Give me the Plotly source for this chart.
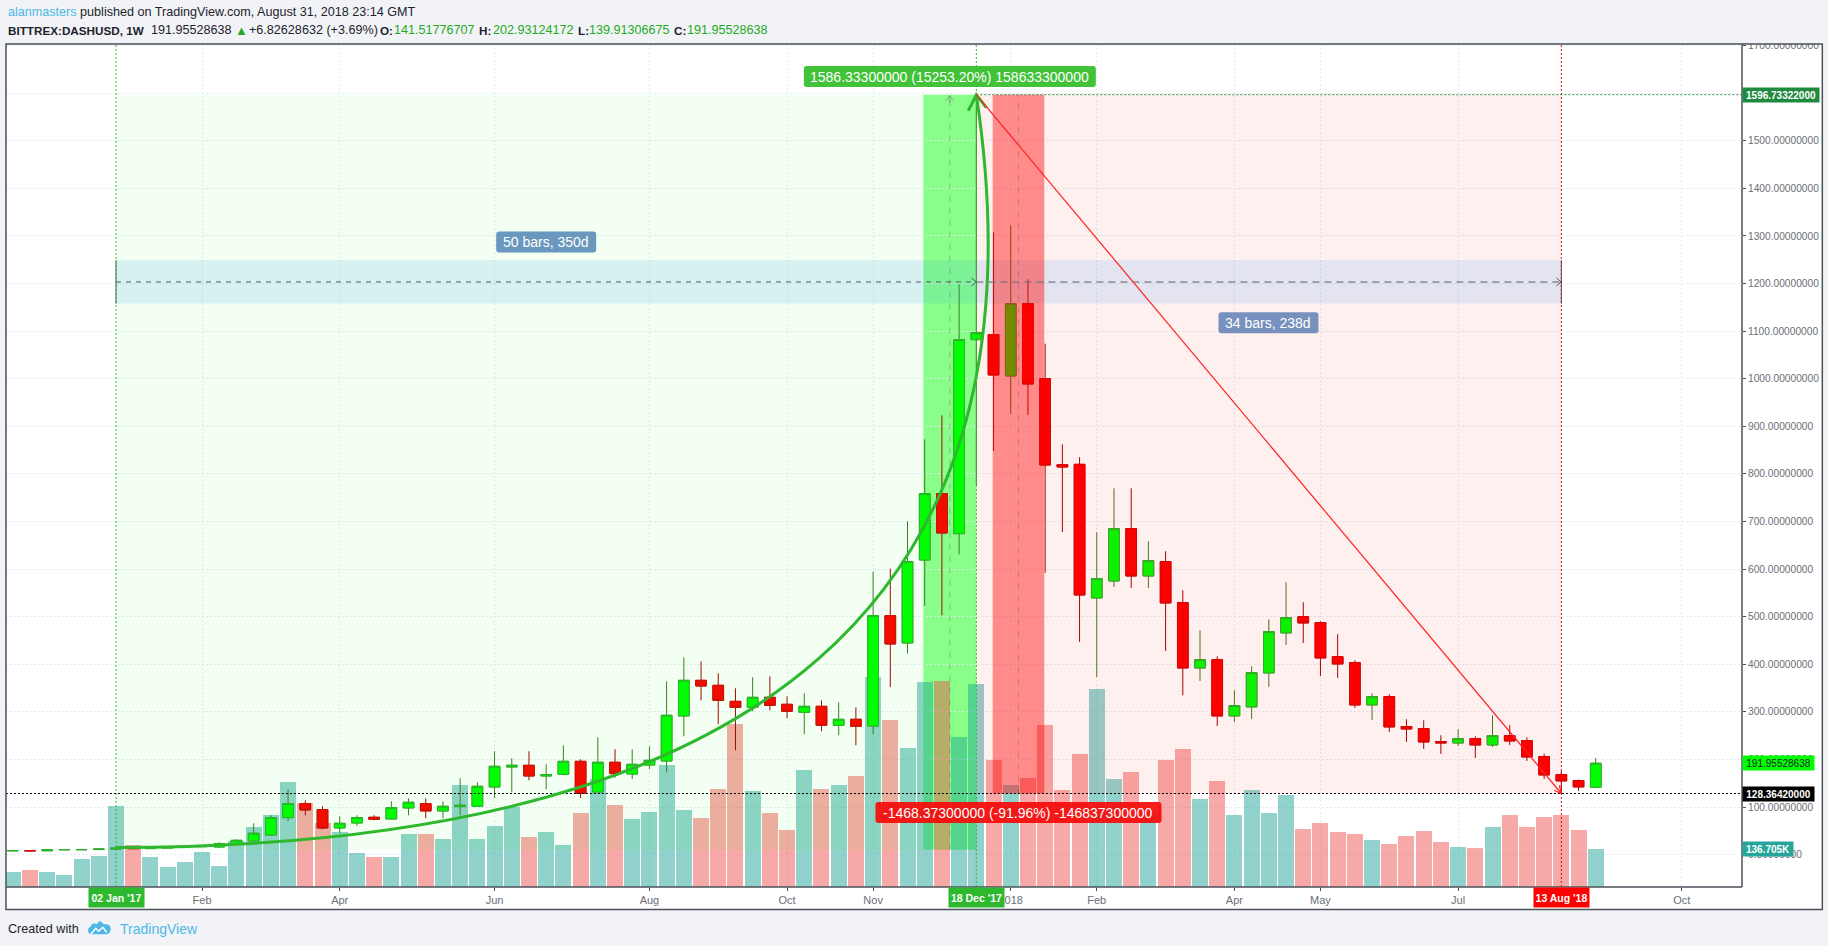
import plotly.graph_objects as go

# ---- data -----------------------------------------------------------------
first_week = -6
opens = [8.0,8.4,8.0,10.0,10.2,10.6,11.6,13.4,12.6,13.9,16.0,16.7,16.0,22.4,28.7,41.3,77.7,107.1,94.5,56.0,66.5,78.4,74.9,98.0,107.1,91.7,100.8,101.5,142.1,184.1,187.6,165.2,168.7,196.0,131.6,194.0,169.4,188.3,196.7,291.3,366.2,355.7,322.1,309.5,330.5,315.8,299.0,311.6,271.7,284.3,270.3,502.1,444.7,619.0,758.5,674.4,1082.0,1092.6,1005.7,1157.7,1000.1,819.4,820.1,539.3,575.0,685.0,585.5,615.7,529.5,392.2,409.7,291.4,310.3,381.7,465.8,500.1,487.5,416.0,403.4,314.5,332.0,269.0,264.7,237.4,234.6,243.7,230.4,250.0,239.5,205.9,168.1,155.5,141.52]
highs = [8.6,8.6,10.5,11.0,11.0,12.0,14.5,14.0,14.5,17.0,18.0,20.0,25.9,32.2,65.8,82.6,137.2,114.1,101.5,80.5,82.6,82.6,112.0,118.3,118.3,112.0,160.3,151.9,217.1,202.4,217.1,189.8,229.7,200.3,246.5,221.3,221.2,227.6,364.1,414.6,406.1,380.9,349.4,372.5,374.6,332.6,338.9,324.2,320.0,309.5,594.6,600.9,700.3,872.6,923.0,1198.3,1596.73,1307.6,1322.3,1208.8,1073.6,862.1,834.8,677.3,769.7,769.7,658.4,637.4,555.4,471.4,416.7,345.3,395.7,494.5,572.2,530.2,490.3,463.0,408.3,339.0,336.9,284.4,282.3,250.7,263.4,248.6,292.8,271.8,246.5,212.2,175.8,157.6,202.93]
lows = [7.8,7.9,8.0,9.8,9.8,10.4,11.0,12.0,12.4,13.5,15.0,15.8,15.5,21.7,27.3,39.2,70.0,82.6,53.2,45.5,60.2,72.1,74.9,82.6,76.3,76.3,82.6,100.1,119.0,130.9,156.1,137.2,166.6,119.0,131.6,161.7,158.9,179.9,172.9,248.6,324.2,273.8,219.2,301.1,303.2,286.4,252.8,259.1,250.7,229.6,252.8,352.2,422.3,522.4,502.8,631.0,776.0,848.1,925.9,923.8,592.0,678.0,446.8,373.2,562.4,560.3,560.3,428.0,334.8,364.9,270.3,278.8,285.1,352.3,440.6,444.8,375.4,371.2,308.2,283.0,257.7,236.7,222.0,211.5,228.3,203.1,226.2,230.4,196.8,159.0,128.36,133.8,139.91]
closes = [8.4,8.0,10.0,10.7,10.6,11.6,13.4,12.6,13.9,16.0,16.7,18.8,23.0,30.0,44.8,77.7,107.1,93.8,56.0,65.8,77.7,74.2,98.7,109.9,91.7,101.5,103.6,143.5,185.5,187.6,165.2,168.0,196.0,128.8,194.0,170.1,189.7,198.1,292.7,366.2,354.3,324.2,309.5,330.5,313.7,301.1,311.6,271.7,284.3,269.6,502.1,442.6,615.6,758.5,675.8,1082.0,1097.0,1007.8,1157.7,988.9,818.7,814.5,545.5,579.9,685.0,585.5,617.8,528.8,392.2,409.7,291.4,313.1,382.4,468.6,498.0,486.8,413.2,400.6,314.5,332.0,268.3,264.0,236.7,234.6,243.7,230.4,250.0,238.8,205.2,167.4,154.8,142.2,191.96]
volumes_k = [54,61,54,43,101,112,292,151,108,72,90,126,76,166,216,259,378,302,230,198,122,108,108,191,191,173,367,173,220,288,180,198,151,266,389,295,245,270,439,277,248,353,587,346,266,205,421,353,367,400,756,601,500,738,742,540,731,457,367,392,583,349,479,713,389,414,270,457,497,317,382,259,349,266,331,209,230,198,191,169,155,184,202,162,144,140,216,259,216,252,259,205,136.705]

tick_weeks = [5,13,22,31,39,44,52,57,65,70,78,91]
tick_labels = ["Feb","Apr","Jun","Aug","Oct","Nov","2018","Feb","Apr","May","Jul","Oct"]

# drawing-tool anchors, in (week, price)
start_week, peak_week, end_week = 0, 50, 84
peak_price, trough_price = 1596.73322, 128.3642
base_price = 10.4
curve_start_price, curve_ctrl_week, curve_ctrl_price = 15.0, 56.6, 15.3
band_top, band_mid, band_bottom = 1248.8, 1203.3, 1157.8
green_band = (46.92, 50)
red_band = (50.95, 53.95)

weeks = list(range(first_week, first_week + len(opens)))
vol_colors = ["rgba(38,166,154,0.5)" if c >= o else "rgba(239,83,80,0.5)" for o, c in zip(opens, closes)]

# ---- plot area geometry ---------------------------------------------------
W, H = 1828, 946
L, R, T, B = 6.3, 1741.7, 43.7, 886.7
def PX(px): return (px - L) / (R - L)
def PY(py): return (B - py) / (B - T)

BG = "#f1f3f6"
AX = "#4c5059"
FONT = "Liberation Sans"

fig = go.Figure()
fig.add_trace(go.Bar(x=weeks, y=volumes_k, marker=dict(color=vol_colors, line=dict(width=0)),
                     width=0.93, yaxis="y", hoverinfo="skip", showlegend=False))
fig.add_trace(go.Candlestick(x=weeks, open=opens, high=highs, low=lows, close=closes, yaxis="y2",
                             increasing=dict(line=dict(color="#3f7d1e", width=1), fillcolor="#00ff00"),
                             decreasing=dict(line=dict(color="#a80000", width=1), fillcolor="#ff0000"),
                             showlegend=False, hoverinfo="skip"))
fig.add_trace(go.Candlestick(x=weeks, open=opens, close=closes,
                             high=[max(o, c) for o, c in zip(opens, closes)],
                             low=[min(o, c) for o, c in zip(opens, closes)], yaxis="y2",
                             increasing=dict(line=dict(color="#2ab52a", width=1), fillcolor="#00ff00"),
                             decreasing=dict(line=dict(color="#d80808", width=1), fillcolor="#ff0000"),
                             showlegend=False, hoverinfo="skip"))

shapes = []
def rect(x0, x1, y0, y1, fill, layer="above"):
    shapes.append(dict(type="rect", xref="x", yref="y2", x0=x0, x1=x1, y0=y0, y1=y1,
                       fillcolor=fill, line=dict(width=0), layer=layer))
def line(x0, x1, y0, y1, color, width=1, dash="solid", layer="above"):
    shapes.append(dict(type="line", xref="x", yref="y2", x0=x0, x1=x1, y0=y0, y1=y1,
                       line=dict(color=color, width=width, dash=dash), layer=layer))
def glyph(x, y, path, color, width=1, fill=None):
    d = dict(type="path", xref="x", yref="y2", xsizemode="pixel", ysizemode="pixel",
             xanchor=x, yanchor=y, path=path, line=dict(color=color, width=width), layer="above")
    if fill:
        d["fillcolor"] = fill
    shapes.append(d)
def pill(x, y, w, h, fill, r=3):
    a, b = w / 2, h / 2
    p = (f"M {-a+r} {-b} L {a-r} {-b} Q {a} {-b} {a} {-b+r} L {a} {b-r} Q {a} {b} {a-r} {b} "
         f"L {-a+r} {b} Q {-a} {b} {-a} {b-r} L {-a} {-b+r} Q {-a} {-b} {-a+r} {-b} Z")
    shapes.append(dict(type="path", xref="x", yref="y2", xsizemode="pixel", ysizemode="pixel",
                       xanchor=x, yanchor=y, path=p, fillcolor=fill, line=dict(width=0), layer="above"))

# white frame behind everything
shapes.append(dict(type="rect", xref="paper", yref="paper", x0=0, x1=PX(1822), y0=PY(909.3), y1=1,
                   fillcolor="white", line=dict(width=0), layer="below"))
# strong green band sits under volume and candles
rect(*green_band, base_price, peak_price, "rgba(0,255,0,0.43)", layer="below")
# light zones lie over the candles
rect(start_week, peak_week, base_price, peak_price, "rgba(0,255,0,0.05)")
rect(peak_week, end_week, trough_price, peak_price, "rgba(255,0,0,0.06)")
# horizontal date-range bands
rect(start_week, end_week, band_bottom, band_top, "rgba(40,150,240,0.13)")
rect(*red_band, trough_price, peak_price, "rgba(255,0,0,0.42)")
# mid dashes of the price ranges
gmid = sum(green_band) / 2
rmid = sum(red_band) / 2
line(gmid, gmid, base_price, peak_price, "rgba(90,90,90,0.35)", 1, "6px,6px")
glyph(gmid, peak_price, "M -4 -6 L 0 -1 L 4 -6 M 0 -1 L 0 -8", "rgba(90,90,90,0.45)")
line(rmid, rmid, trough_price, peak_price, "rgba(90,90,90,0.35)", 1, "6px,6px")
# dashed time spans
line(start_week, start_week, band_bottom, band_top, "#50535e")
line(end_week, end_week, band_bottom, band_top, "#50535e")
line(start_week, peak_week, band_mid, band_mid, "#555a60", 1, "5px,5px")
line(peak_week, end_week, band_mid, band_mid, "rgba(110,110,120,0.75)", 1.5, "7px,5px")
glyph(peak_week, band_mid, "M -5 4 L 0 0 L -5 -4", "#555a60")
glyph(end_week, band_mid, "M -5 4 L 0 0 L -5 -4", "#555a60")
# crosshair style lines
green_dot = "#2db82d"
line(start_week, start_week, -68, 1703.3, green_dot, 1, "2px,2px")
line(peak_week, peak_week, -68, 1703.3, green_dot, 1, "2px,2px")
line(end_week, end_week, -68, 1703.3, "#e00000", 1, "2px,2px")
line(peak_week, 94.5, peak_price, peak_price, "#1f8a3f", 1, "2px,2px")
line(-6.4, 94.5, trough_price, trough_price, "#000000", 1, "2px,2px")
# curve and arrows
shapes.append(dict(type="path", xref="x", yref="y2", layer="above", line=dict(color="#2db82d", width=3),
                   path=f"M {start_week} {curve_start_price} Q {curve_ctrl_week} {curve_ctrl_price} {peak_week} {peak_price}"))
glyph(peak_week, peak_price, "M -8 -16 L 0 0 L 10 -13", "#2db82d", 3)
line(peak_week, end_week, peak_price, trough_price, "#ff2020", 1.2)
glyph(end_week, trough_price, "M -2 8 L 0 0 L -7 3", "#ff2020", 1.2)
# measure-tool pills
pill(gmid, 1634.8, 292, 21, "rgba(40,185,30,0.88)")
pill(rmid, 88.2, 286, 21, "rgba(245,10,10,0.92)")
pill(25, 1287, 100, 21, "#6a97bd")
pill(66.98, 1117.5, 100, 21, "#7890bd")
# clip the tick label at the top and draw the frame
shapes.append(dict(type="rect", xref="paper", yref="paper", x0=PX(-1), x1=PX(1829), y0=PY(43.7), y1=PY(-1),
                   fillcolor=BG, line=dict(width=0), layer="above"))
shapes.append(dict(type="rect", xref="paper", yref="paper", x0=0, x1=PX(1822), y0=PY(909.3), y1=1,
                   line=dict(color=AX, width=1.5), layer="above"))
shapes.append(dict(type="line", xref="paper", yref="paper", x0=1, x1=1, y0=0, y1=1,
                   line=dict(color=AX, width=1.5), layer="above"))
shapes.append(dict(type="line", xref="paper", yref="paper", x0=0, x1=1, y0=0, y1=0,
                   line=dict(color=AX, width=1.5), layer="above"))
# TradingView logo
logo = dict(type="path", xref="paper", yref="paper", xsizemode="pixel", ysizemode="pixel",
            xanchor=PX(88), yanchor=PY(935), layer="above")
shapes.append({**logo, "path": "M 2 1 Q -2 6 3 9 Q 5 14 9 11 Q 12 17 16 11 Q 23 12 23 6 Q 23 2 19 1 Z",
               "fillcolor": "#4db8e8", "line": dict(width=0)})
shapes.append({**logo, "path": "M 3 1 L 8 7 L 11 4 L 15 8 L 19 3", "line": dict(color="white", width=1.5)})

ann = []
def text(x, y, s, size, color="white", **kw):
    ann.append(dict(x=x, y=y, text=s, showarrow=False, font=dict(family=FONT, size=size, color=color), **kw))
def head(px, py, s, size=12.6, color="#1e222d"):
    text(PX(px), PY(py), s, size, color, xref="paper", yref="paper", xanchor="left", yanchor="middle")

head(6, 11.5, '<span style="color:#4db8e8">alanmasters</span> published on TradingView.com, August 31, 2018 23:14 GMT')
LINE2 = "#1e222d"
GREEN = "#22ab22"
head(6, 30, "<b>BITTREX:DASHUSD, 1W</b>", 11.7)
head(149.5, 30, "191.95528638")
head(233, 30, "▲", 13, GREEN)
head(247.4, 30, "+6.82628632 (+3.69%)")
head(378.5, 30, "<b>O:</b>", 11.7)
head(392.3, 30, "141.51776707", 12.6, GREEN)
head(477.5, 30, "<b>H:</b>", 11.7)
head(491.3, 30, "202.93124172", 12.6, GREEN)
head(576.5, 30, "<b>L:</b>", 11.7)
head(587.3, 30, "139.91306675", 12.6, GREEN)
head(672.5, 30, "<b>C:</b>", 11.7)
head(684.7, 30, "191.95528638", 12.6, GREEN)
head(6, 928.5, "Created with")
head(118, 928.5, "TradingView", 14, "#4db8e8")

text(gmid, 1634.8, "1586.33300000 (15253.20%) 158633300000", 14, xref="x", yref="y2")
text(rmid, 88.2, "-1468.37300000 (-91.96%) -146837300000", 14, xref="x", yref="y2")
text(25, 1287, "50 bars, 350d", 14, xref="x", yref="y2")
text(66.98, 1117.5, "34 bars, 238d", 14, xref="x", yref="y2")

def axis_tag(y, s, fill, color, w, yref="y2"):
    text(1, y, s, 10, color, xref="paper", yref=yref, xanchor="left", yanchor="middle",
         width=w, height=14, bgcolor=fill, borderpad=0, align="center")
axis_tag(peak_price, "<b>1596.73322000</b>", "#1f8a3f", "white", 76)
axis_tag(191.95528638, "191.95528638", "#00ff00", "#1e222d", 71)
axis_tag(trough_price, "<b>128.36420000</b>", "#000000", "white", 71)
axis_tag(136.705, "<b>136.705K</b>", "#26a69a", "white", 50, yref="y")

def date_tag(x, s, fill):
    text(x, 0, f"<b>{s}</b>", 10.5, "white", xref="x", yref="paper", xanchor="center", yanchor="top",
         width=55, height=19, bgcolor=fill, borderpad=0, align="center")
date_tag(start_week, "02 Jan '17", "#2db82d")
date_tag(peak_week, "18 Dec '17", "#2db82d")
date_tag(end_week, "13 Aug '18", "#ff0000")

GRID = "#e3ebf3"
fig.update_layout(
    width=W, height=H, margin=dict(l=L, r=W - R, t=T, b=H - B, pad=0, autoexpand=False),
    paper_bgcolor=BG, plot_bgcolor="rgba(0,0,0,0)", showlegend=False,
    barmode="overlay", bargap=0, boxgap=0.38, boxgroupgap=0, boxmode="overlay",
    font=dict(family=FONT, color="#6b6e76", size=10),
    xaxis=dict(range=[-6.395, 94.5], tickmode="array", tickvals=tick_weeks, ticktext=tick_labels,
               showgrid=True, gridcolor=GRID, griddash="2px,2px", gridwidth=1, zeroline=False,
               ticks="outside", ticklen=3, tickcolor=AX, showline=False,
               rangeslider=dict(visible=False), tickfont=dict(size=11, color="#6b6e76")),
    yaxis=dict(range=[0, 3035], visible=False, fixedrange=True),
    yaxis2=dict(range=[-68.1, 1703.3], overlaying="y", side="right", anchor="x", dtick=100, tick0=0,
                tickformat=".8f", showgrid=True, gridcolor=GRID, griddash="2px,2px", gridwidth=1, zeroline=False,
                ticks="outside", ticklen=3, tickcolor=AX, showline=False, tickfont=dict(size=10.2, color="#6b6e76")),
    shapes=shapes, annotations=ann,
)

fig.write_html("out.html", config=dict(displayModeBar=False),
               post_script="document.body.style.margin='0';document.body.style.overflow='hidden';")
